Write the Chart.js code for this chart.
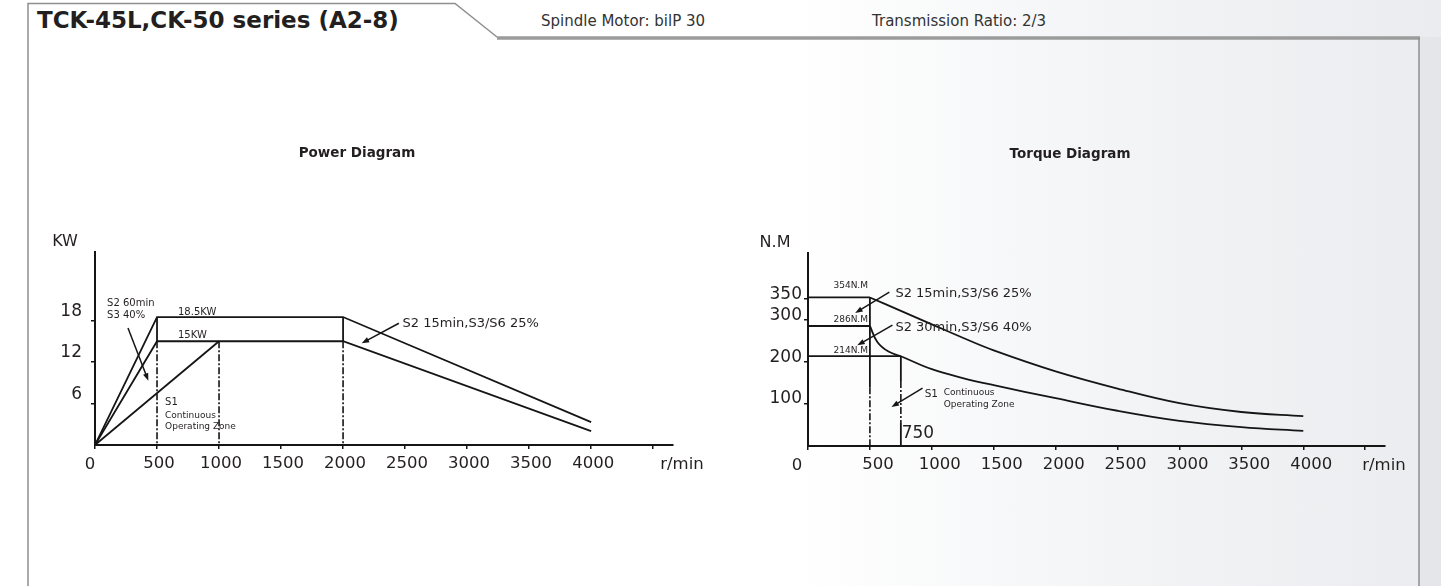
<!DOCTYPE html>
<html>
<head>
<meta charset="utf-8">
<script src="https://cdn.jsdelivr.net/npm/chart.js@4.4.1/dist/chart.umd.min.js"></script>
<style>
	html, body { margin: 0; padding: 0; }
	body {
		width: 1441px; height: 586px; overflow: hidden; position: relative;
		background: linear-gradient(to right, #ffffff 0%, #ffffff 55%, #f3f4f6 78%, #eaecef 100%);
		font-family: 'DejaVu Sans', sans-serif; color: #231f20;
	}
	.frame { position: absolute; left: 0; top: 0; }
	.hdr { position: absolute; top: 8px; white-space: nowrap; line-height: 24px; }
	.hdr.main { left: 37px; font-weight: bold; font-size: 23px; letter-spacing: 0px; top: 8px; }
	.hdr.sub { font-size: 15px; top: 9px; color: #333; }
	canvas { position: absolute; }
	.side { position: absolute; left: 1420px; top: 37px; width: 21px; height: 549px; background: #e4e6e9; }
</style>
</head>
<body>
<div class="side"></div>
<svg class="frame" width="1441" height="586">
	<polyline points="28,586 28,3.5 455,3.5 497,37" fill="none" stroke="#8e8e8e" stroke-width="1.5" />
	<line x1="497" y1="38" x2="1420" y2="38" stroke="#9b9b9b" stroke-width="3.5" />
	<line x1="1419" y1="38" x2="1419" y2="586" stroke="#8e8e8e" stroke-width="1.5" />
</svg>
<div class="hdr main">TCK-45L,CK-50 series (A2-8)</div>
<div class="hdr sub" style="left:541px">Spindle Motor: bilP 30</div>
<div class="hdr sub" style="left:872px">Transmission Ratio: 2/3</div>

<canvas id="powerChart" width="720" height="400" style="left:0px;top:100px"></canvas>
<canvas id="torqueChart" width="721" height="400" style="left:720px;top:100px"></canvas>

<script>
// =====================================
// DATA
// =====================================

const rpmTicks = [0, 500, 1000, 1500, 2000, 2500, 3000, 3500, 4000, 4500];

// power diagram (kW vs r/min)
const powerTicksY = [6, 12, 18];
const powerS2Rpm = [0, 500, 2000, 4000];
const powerS2Kw = [0, 18.5, 18.5, 3.3];
const powerS3Rpm = [0, 500, 2000, 4000];
const powerS3Kw = [0, 15, 15, 2.0];
const powerS1Rpm = [0, 1000];
const powerS1Kw = [0, 15];
const powerSolidRpm = [500, 2000];
const powerSolidFrom = [18.5, 18.5];
const powerSolidTo = [15, 15];
const powerDashRpm = [500, 1000, 2000];
const powerDashFrom = [15, 15, 15];
const powerDashTo = [0, 0, 0];

// torque diagram (N.m vs r/min)
const torqueTicksY = [100, 200, 300, 350];
const torqueFlatRpm = [0, 500];
const torqueFlatTop = [354, 354];
const torqueFlatMid = [286, 286];
const torqueS1FlatRpm = [0, 750];
const torqueS1FlatNm = [214, 214];
const torqueUpperRpm = [500, 750, 1000, 1250, 1500, 2000, 2500, 3000, 3500, 4000];
const torqueUpperNm = [354, 322, 290, 258, 228, 178, 137, 102, 81, 71];
const torqueLowerRpm = [500, 560, 650, 750, 1000, 1250, 1500, 2000, 2500, 3000, 3500, 4000];
const torqueLowerNm = [286, 248, 225, 214, 183, 162, 145, 114, 84, 60, 45, 36];
const torqueSolidRpm = [500, 750, 750];
const torqueSolidFrom = [354, 214, 55];
const torqueSolidTo = [140, 155, 0];
const torqueDashRpm = [500, 750];
const torqueDashFrom = [140, 155];
const torqueDashTo = [0, 55];

// =====================================
// HELPERS
// =====================================

const INK = '#151515';
const TEXT = '#231f20';
const DASH_DOT = [7, 2, 2, 2];

const toPoints = (xs, ys) => xs.map((x, i) => ({ x, y: ys[i] }));

const lineSet = (xs, ys, extra = {}) => ({
	data: toPoints(xs, ys),
	borderColor: INK,
	borderWidth: 1.8,
	pointRadius: 0,
	fill: false,
	...extra,
});

const segmentSets = (rpm, from, to, dash) =>
	rpm.map((x, i) => lineSet([x, x], [from[i], to[i]], dash ? { borderDash: DASH_DOT, borderWidth: 1.6 } : {}));

const drawArrow = (ctx, x1, y1, x2, y2) => {
	const ang = Math.atan2(y2 - y1, x2 - x1);
	const len = 8;
	ctx.beginPath();
	ctx.moveTo(x1, y1);
	ctx.lineTo(x2 - Math.cos(ang) * 4, y2 - Math.sin(ang) * 4);
	ctx.lineWidth = 1.5;
	ctx.strokeStyle = INK;
	ctx.stroke();
	ctx.beginPath();
	ctx.moveTo(x2, y2);
	ctx.lineTo(x2 - len * Math.cos(ang - 0.35), y2 - len * Math.sin(ang - 0.35));
	ctx.lineTo(x2 - len * Math.cos(ang + 0.35), y2 - len * Math.sin(ang + 0.35));
	ctx.closePath();
	ctx.fillStyle = INK;
	ctx.fill();
};

// notes / arrows given in data units, titles relative to the chart area
const notesPlugin = (cfg) => ({
	id: 'notes_' + cfg.name,
	afterDatasetsDraw(chart) {
		const { ctx, chartArea, scales } = chart;
		const px = (v) => scales.x.getPixelForValue(v);
		const py = (v) => scales.y.getPixelForValue(v);
		ctx.save();
		ctx.textBaseline = 'middle';
		ctx.fillStyle = TEXT;

		ctx.font = 'bold 13.5px "DejaVu Sans"';
		ctx.textAlign = 'center';
		ctx.fillText(cfg.title, chartArea.left + 262, chartArea.top - 99);

		ctx.font = '16px "DejaVu Sans"';
		ctx.fillText(cfg.unitY, chartArea.left + cfg.unitYdx, chartArea.top - 10);
		ctx.font = '16.5px "DejaVu Sans"';
		ctx.fillText('r/min', chartArea.right + cfg.unitXdx, chartArea.bottom + 20);
		// origin label sits a little left of the corner on the sheet
		ctx.fillText('0', chartArea.left + cfg.zeroDx, chartArea.bottom + 20);

		cfg.notes.forEach((n) => {
			ctx.font = `${n.size}px "DejaVu Sans"`;
			ctx.textAlign = n.align || 'left';
			ctx.fillStyle = n.color || TEXT;
			ctx.fillText(n.text, px(n.x), py(n.y));
		});
		cfg.arrows.forEach((a) => drawArrow(ctx, px(a[0]), py(a[1]), px(a[2]), py(a[3])));
		ctx.restore();
	},
});

const axisOptions = (max, ticks, yWidth, yPad, yOffset, xOffset) => ({
	x: {
		type: 'linear',
		min: 0,
		max: 4660,
		afterBuildTicks: (s) => { s.ticks = rpmTicks.map((v) => ({ value: v })); },
		afterFit: (s) => { s.height = 40; },
		border: { display: true, color: INK, width: 2 },
		grid: { display: true, drawOnChartArea: false, drawTicks: true, tickLength: 4, color: INK, lineWidth: 1.5 },
		ticks: {
			color: TEXT,
			padding: 5,
			labelOffset: xOffset,
			maxRotation: 0,
			autoSkip: false,
			font: { family: 'DejaVu Sans', size: 16.5 },
			callback: (v) => (v > 4000 || v === 0 ? '' : String(v)),
		},
	},
	y: {
		type: 'linear',
		min: 0,
		max,
		afterBuildTicks: (s) => { s.ticks = ticks.map((v) => ({ value: v })); },
		afterFit: (s) => { s.width = yWidth; },
		border: { display: true, color: INK, width: 2 },
		grid: { display: true, drawOnChartArea: false, drawTicks: true, tickLength: 4, color: INK, lineWidth: 1.5 },
		ticks: {
			color: TEXT,
			padding: yPad,
			labelOffset: yOffset,
			font: { family: 'DejaVu Sans', size: 17 },
		},
	},
});

const baseOptions = (padding, scales) => ({
	responsive: false,
	animation: false,
	devicePixelRatio: 1,
	layout: { padding },
	plugins: { legend: { display: false }, tooltip: { enabled: false }, title: { display: false } },
	scales,
});

// =====================================
// POWER DIAGRAM
// =====================================

new Chart(document.getElementById('powerChart'), {
	type: 'line',
	data: {
		datasets: [
			lineSet(powerS2Rpm, powerS2Kw),
			lineSet(powerS3Rpm, powerS3Kw),
			lineSet(powerS1Rpm, powerS1Kw),
			...segmentSets(powerSolidRpm, powerSolidFrom, powerSolidTo, false),
			...segmentSets(powerDashRpm, powerDashFrom, powerDashTo, true),
		],
	},
	options: baseOptions({ left: 0, top: 152, right: 47, bottom: 15 }, axisOptions(27.9, powerTicksY, 95, 9, -9, 2)),
	plugins: [notesPlugin({
		name: 'power',
		title: 'Power Diagram',
		unitY: 'KW',
		unitYdx: -30,
		unitXdx: 9,
		zeroDx: -5,
		notes: [
			{ text: 'S2 60min', x: 97, y: 20.5, size: 10 },
			{ text: 'S3 40%', x: 97, y: 18.8, size: 10 },
			{ text: '18.5KW', x: 669, y: 19.2, size: 10 },
			{ text: '15KW', x: 669, y: 15.8, size: 10 },
			{ text: 'S1', x: 565, y: 6.1, size: 10 },
			{ text: 'Continuous', x: 565, y: 4.2, size: 9 },
			{ text: 'Operating Zone', x: 565, y: 2.6, size: 9 },
			{ text: 'S2 15min,S3/S6 25%', x: 2480, y: 17.6, size: 13 },
		],
		arrows: [
			[266, 16.9, 430, 9.3],
			[2450, 17.6, 2150, 14.7],
		],
	})],
});

// =====================================
// TORQUE DIAGRAM
// =====================================

new Chart(document.getElementById('torqueChart'), {
	type: 'line',
	data: {
		datasets: [
			lineSet(torqueFlatRpm, torqueFlatTop),
			lineSet(torqueFlatRpm, torqueFlatMid),
			lineSet(torqueS1FlatRpm, torqueS1FlatNm),
			lineSet(torqueUpperRpm, torqueUpperNm, { tension: 0.4 }),
			lineSet(torqueLowerRpm, torqueLowerNm, { tension: 0.4 }),
			...segmentSets(torqueSolidRpm, torqueSolidFrom, torqueSolidTo, false),
			...segmentSets(torqueDashRpm, torqueDashFrom, torqueDashTo, true),
		],
	},
	options: baseOptions({ left: 0, top: 153, right: 56, bottom: 14 }, axisOptions(460, torqueTicksY, 88, 2, -5, 8)),
	plugins: [notesPlugin({
		name: 'torque',
		title: 'Torque Diagram',
		unitY: 'N.M',
		unitYdx: -33,
		unitXdx: -1,
		zeroDx: -11,
		notes: [
			{ text: '354N.M', x: 345, y: 382, size: 9, align: 'center' },
			{ text: '286N.M', x: 345, y: 301, size: 9, align: 'center' },
			{ text: '214N.M', x: 345, y: 227, size: 9, align: 'center' },
			{ text: 'S2 15min,S3/S6 25%', x: 706, y: 364, size: 13 },
			{ text: 'S2 30min,S3/S6 40%', x: 706, y: 281, size: 13 },
			{ text: 'S1', x: 942, y: 124, size: 10.5 },
			{ text: 'Continuous', x: 1096, y: 127, size: 9 },
			{ text: 'Operating Zone', x: 1096, y: 99, size: 9 },
			{ text: '750', x: 757, y: 29, size: 17 },
		],
		arrows: [
			[657, 367, 381, 317],
			[682, 288, 398, 240],
			[925, 138, 674, 93],
		],
	})],
});
</script>
</body>
</html>
